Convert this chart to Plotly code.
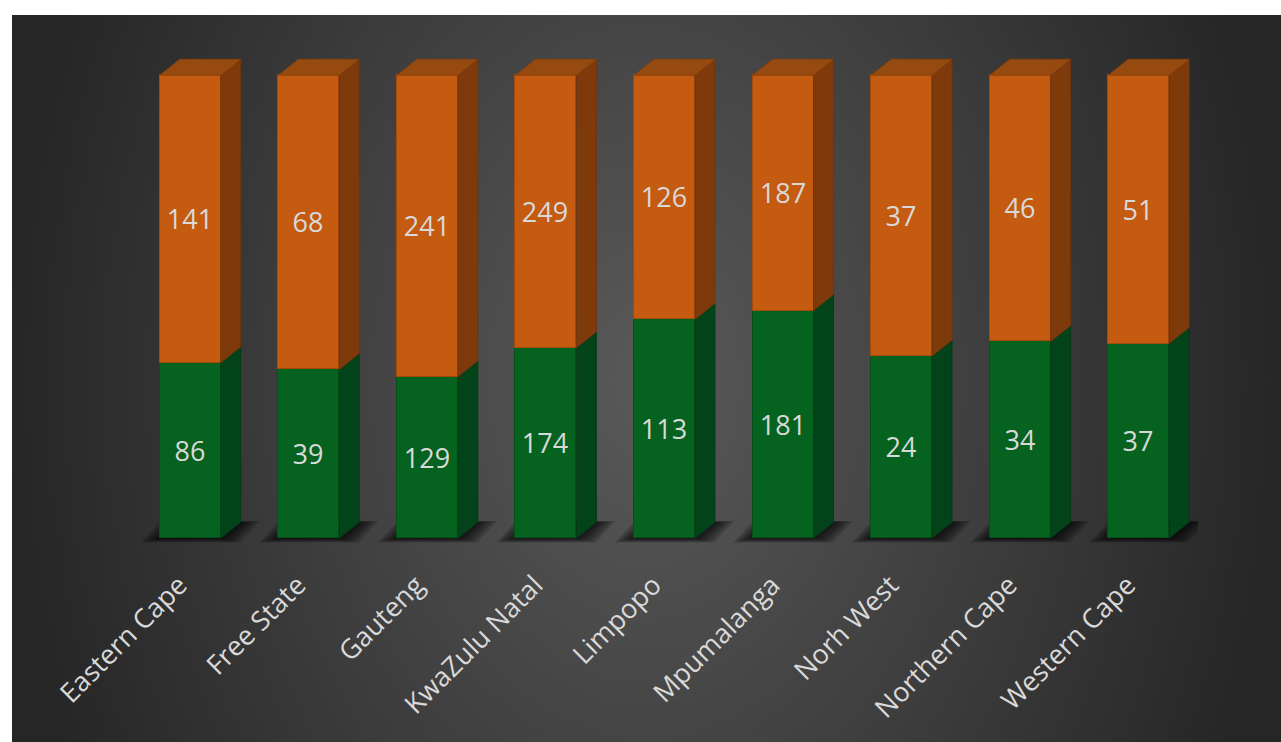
import base64, struct, zlib
import numpy as np
import plotly.graph_objects as go

# ---------------- data ----------------
provinces = ["Eastern Cape", "Free State", "Gauteng", "KwaZulu Natal", "Limpopo",
             "Mpumalanga", "Norh West", "Northern Cape", "Western Cape"]
green_vals = [86, 39, 129, 174, 113, 181, 24, 34, 37]
orange_vals = [141, 68, 241, 249, 126, 187, 37, 46, 51]

# ---------------- style ----------------
W, H = 1281, 742
ML, MR, MT, MB = 131, 83, 29, 176
XMIN, XMAX = -0.5, 8.5
YMIN, YMAX = -0.06, 1.10
plot_w = W - ML - MR
plot_h = H - MT - MB
px_x = plot_w / (XMAX - XMIN)
px_y = plot_h / (YMAX - YMIN)
BW = 61 / px_x          # front face width
DX = 20 / px_x          # depth offset x
DY = 16 / px_y          # depth offset y

G_FRONT, G_SIDE, G_EDGE = "#05621F", "#02431A", "#044F1A"
O_FRONT, O_SIDE, O_TOP, O_EDGE = "#C55A11", "#7F3A0C", "#974A0F", "#A14A0E"
TXT = "#D9D9D9"

# ---------------- background gradient image ----------------
def gradient_png(w, h):
    xs = np.linspace(12, 1281, w)
    ys = np.linspace(15, 742, h)
    X, Y = np.meshgrid(xs, ys)
    t = np.sqrt(((X - 646) / 650) ** 2 + ((Y - 380) / 900) ** 2)
    t = np.clip(t, 0, 1)
    v = (90 - 52 * t).astype(np.uint8)
    raw = b"".join(b"\x00" + v[r].tobytes() for r in range(h))
    def chunk(tag, data):
        c = struct.pack(">I", len(data)) + tag + data
        return c + struct.pack(">I", zlib.crc32(tag + data) & 0xffffffff)
    png = b"\x89PNG\r\n\x1a\n" + chunk(b"IHDR", struct.pack(">IIBBBBB", w, h, 8, 0, 0, 0, 0)) \
        + chunk(b"IDAT", zlib.compress(raw, 9)) + chunk(b"IEND", b"")
    return "data:image/png;base64," + base64.b64encode(png).decode()

# ---------------- derived ----------------
totals = [g + o for g, o in zip(green_vals, orange_vals)]
g_frac = [g / t for g, t in zip(green_vals, totals)]
o_frac = [o / t for o, t in zip(orange_vals, totals)]
idx = list(range(len(provinces)))

fig = go.Figure()
fig.add_trace(go.Bar(x=idx, y=g_frac, width=BW, text=[str(v) for v in green_vals],
                     marker=dict(color=G_FRONT, line=dict(color=G_EDGE, width=1)),
                     textposition="inside", insidetextanchor="middle", textangle=0,
                     textfont=dict(family="Open Sans", size=27, color=TXT), hoverinfo="skip"))
fig.add_trace(go.Bar(x=idx, y=o_frac, width=BW, text=[str(v) for v in orange_vals],
                     marker=dict(color=O_FRONT, line=dict(color=O_EDGE, width=1)),
                     textposition="inside", insidetextanchor="middle", textangle=0,
                     textfont=dict(family="Open Sans", size=27, color=TXT), hoverinfo="skip"))

def poly_trace(polys, fill, edge):
    xs, ys = [], []
    for p in polys:
        for (a, b) in p + [p[0]]:
            xs.append(a); ys.append(b)
        xs.append(None); ys.append(None)
    return go.Scatter(x=xs, y=ys, mode="lines", fill="toself", fillcolor=fill,
                      line=dict(color=edge, width=0.8), hoverinfo="skip", showlegend=False)

g_side, o_side, o_top = [], [], []
for i, p in zip(idx, g_frac):
    xl, xr = i - BW / 2, i + BW / 2
    g_side.append([(xr, 0), (xr + DX, DY), (xr + DX, p + DY), (xr, p)])
    o_side.append([(xr, p), (xr + DX, p + DY), (xr + DX, 1 + DY), (xr, 1)])
    o_top.append([(xl, 1), (xl + DX, 1 + DY), (xr + DX, 1 + DY), (xr, 1)])
fig.add_trace(poly_trace(g_side, G_SIDE, "#023814"))
fig.add_trace(poly_trace(o_side, O_SIDE, "#6E320A"))
fig.add_trace(poly_trace(o_top, O_TOP, "#85410D"))

# soft floor shadows
shapes = []
for i in idx:
    xl, xr = i - BW / 2, i + BW / 2
    for k in range(6, 0, -1):
        ex = k * 3.2 / px_x
        ey = k * 0.7 / px_y
        path = (f"M {xl - ex},{-ey} L {xr + ex},{-ey} "
                f"L {xr + DX + ex},{DY + ey*0.3} L {xl + DX - ex},{DY + ey*0.3} Z")
        shapes.append(dict(type="path", path=path, xref="x", yref="y", layer="below",
                           fillcolor="rgba(0,0,0,0.16)", line=dict(width=0)))

fig.update_layout(
    width=W, height=H, barmode="stack", bargap=0, showlegend=False,
    margin=dict(l=ML, r=MR, t=MT, b=MB, pad=0),
    paper_bgcolor="white", plot_bgcolor="rgba(0,0,0,0)",
    shapes=shapes,
    images=[dict(source=gradient_png(254, 146), xref="paper", yref="paper",
                 x=(12 - ML) / plot_w, y=(H - MB - 15) / plot_h,
                 sizex=(W - 12) / plot_w, sizey=(H - 15) / plot_h,
                 xanchor="left", yanchor="top", sizing="stretch", layer="below")],
    xaxis=dict(range=[XMIN, XMAX], tickvals=idx, ticktext=provinces, tickangle=-45,
               tickfont=dict(family="Open Sans", size=27, color=TXT),
               ticklabelshift=-11, ticklabelstandoff=-3,
               showgrid=False, zeroline=False, showline=False, ticks=""),
    yaxis=dict(range=[YMIN, YMAX], visible=False, showgrid=False, zeroline=False),
    uniformtext=dict(minsize=10, mode="show"),
)
fig.write_html("out.html", config={"displayModeBar": False},
               post_script="document.body.style.margin='0';document.body.style.overflow='hidden';")
